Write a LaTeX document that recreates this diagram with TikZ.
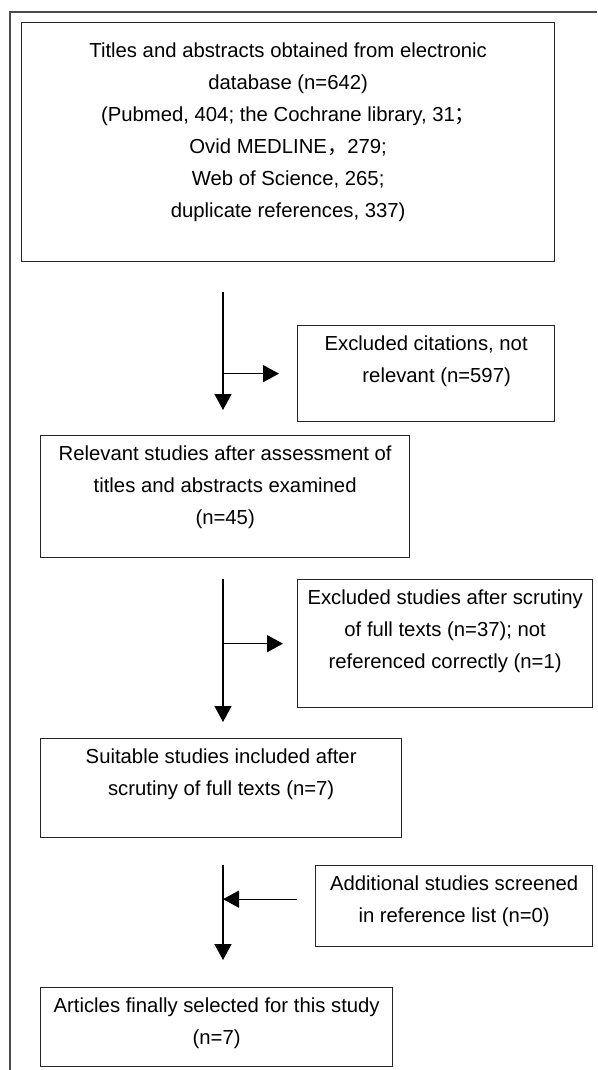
\documentclass[tikz,border=0pt]{standalone}
\usepackage{fontspec}
\setmainfont{Liberation Sans}
\newfontfamily\cjk{Noto Sans CJK SC}
\usetikzlibrary{arrows.meta}

\tikzset{
  flowbox/.style={draw=black!85, line width=1.3pt, inner sep=0pt, anchor=north west, text=black},
  flowline/.style={draw=black, line width=1.3pt},
  flowarrow/.style={flowline, -{Triangle[width=17pt,length=16pt]}},
  frameline/.style={draw=black!70, line width=1.5pt}
}
% width, height, top gap, lines
\newcommand{\boxlines}[4]{\parbox[c][#2][t]{#1}{\centering\fontsize{20.3}{32}\selectfont\vspace*{#3}#4\par}}

\begin{document}
\begin{tikzpicture}[x=1pt,y=-1pt]
	\useasboundingbox (0,0) rectangle (597,1070);
	\draw[frameline] (10,1070) -- (10,12) -- (597,12);

	\node[flowbox] (search) at (21,22) {\boxlines{533pt}{239pt}{20pt}{Titles and abstracts obtained from electronic\\
		database (n=642)\\
		(Pubmed, 404; the Cochrane library, 31{\cjk ；}\\
		Ovid MEDLINE{\cjk ，}279;\\
		Web of Science, 265;\\
		duplicate references, 337)}};
	\node[flowbox] (notrel) at (297,325) {\boxlines{257pt}{96pt}{10pt}{Excluded citations, not\\\hspace*{21pt}relevant (n=597)}};
	\node[flowbox] (relevant) at (40,435) {\boxlines{369pt}{122pt}{10pt}{Relevant studies after assessment of\\titles and abstracts examined\\(n=45)}};
	\node[flowbox] (fulltext) at (297,579) {\boxlines{295pt}{128pt}{10pt}{Excluded studies after scrutiny\\of full texts (n=37); not\\referenced correctly (n=1)}};
	\node[flowbox] (suitable) at (40,738) {\boxlines{361pt}{99pt}{10pt}{Suitable studies included after\\scrutiny of full texts (n=7)}};
	\node[flowbox] (reflist) at (315,865) {\boxlines{277pt}{81pt}{10pt}{Additional studies screened\\in reference list (n=0)}};
	\node[flowbox] (final) at (40,987) {\boxlines{352pt}{79pt}{10pt}{Articles finally selected for this study\\(n=7)}};

	\coordinate (top1) at (223,292);
	\coordinate (top2) at (223,579);
	\coordinate (top3) at (223,865);
	\coordinate (in3) at ([yshift=7pt]reflist.west);

	\draw[flowarrow, shorten >=25pt] (top1) -- (top1 |- relevant.north);
	\draw[flowarrow, shorten >=18pt] (top1 |- notrel.west) -- (notrel.west);

	\draw[flowarrow, shorten >=16pt] (top2) -- (top2 |- suitable.north);
	\draw[flowarrow, shorten >=14pt] (top2 |- fulltext.west) -- (fulltext.west);

	\draw[flowarrow, shorten >=27pt] (top3) -- (top3 |- final.north);
	\draw[flowarrow, shorten <=18pt] (in3) -- (in3 -| top3);
\end{tikzpicture}
\end{document}
